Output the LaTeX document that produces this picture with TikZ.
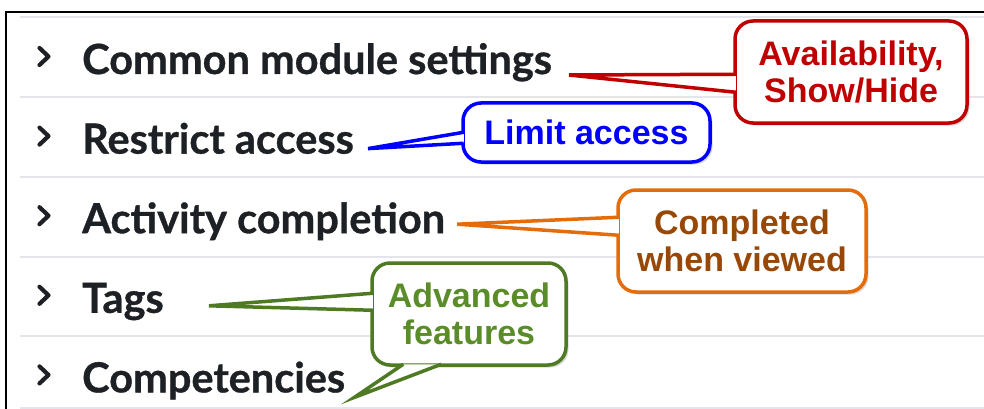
\documentclass[tikz,border=0pt]{standalone}
\usepackage{fontspec}
\setmainfont{Liberation Sans}
\newfontfamily\rowfont[BoldFeatures={FakeBold=0.8}]{Lato}
\usetikzlibrary{shadows,calc,backgrounds}

\definecolor{rowtext}{HTML}{1D2125}
\definecolor{rulegray}{HTML}{E3E5EA}
\definecolor{availred}{HTML}{C00000}
\definecolor{limitblue}{HTML}{0000FF}
\definecolor{complorange}{HTML}{E46C0A}
\definecolor{compltext}{HTML}{984806}
\definecolor{advgreen}{HTML}{4F7A24}
\definecolor{advtext}{HTML}{5A8C2A}

\tikzset{
  row/.style={anchor=base west, inner sep=0pt, text=rowtext,
    font=\rowfont\bfseries\fontsize{41.5}{44}\selectfont},
  chevron/.style={draw=rowtext, line width=4.2pt, line cap=round, line join=round},
  rule line/.style={draw=rulegray, line width=1.4pt},
  callout/.style={draw=#1, fill=white, line width=3.5pt, rounded corners=18pt,
    inner sep=0pt, align=center, font=\bfseries\fontsize{34}{37}\selectfont},
  tail/.style={draw=#1, fill=white, line width=3.5pt},
  shade/.style={drop shadow={shadow xshift=2.5pt, shadow yshift=-2.5pt, opacity=0.3}}
}

% tail of a callout: #1 colour, #2 and #4 on the box edge, #3 the tip
\newcommand\drawtail[4]{%
  \begin{pgfonlayer}{background}
    \fill[black, opacity=0.3, xshift=2.5pt, yshift=-2.5pt] #2 -- #3 -- #4 -- cycle;
  \end{pgfonlayer}
  \path[tail=#1] #2 -- #3 -- #4;}

\begin{document}
\begin{tikzpicture}[x=1pt, y=-1pt]
\useasboundingbox (0,0) rectangle (984,409);

% panel frame and row separators
\draw[line width=1.4pt] (6,409) -- (6,12) -- (984,12);
\foreach \y in {17,97,177,257,336,408}
  \draw[rule line] (20,\y) -- (984,\y);

% the collapsed sections
\foreach \name/\label [count=\i from 0] in {common/Common module settings,
    restrict/Restrict access, activity/Activity completion, tags/Tags,
    compet/Competencies} {
  \node[row] (\name) at (82,{74+79.6*\i}) {\label};
  \draw[chevron] ($(\name.base west)+(-42.5,-26)$) -- ++(9,8.5) -- ++(-9,8.5);
}

\coordinate (tipA) at ($(common.base east)+(17,1)$);
\coordinate (tipB) at ($(restrict.base east)+(14,-5)$);
\coordinate (tipC) at ($(activity.base east)+(12,-9)$);
\coordinate (tipD) at ($(tags.base east)+(45,-7)$);
\coordinate (tipE) at ($(compet.base east)+(9,5)$);

% red callout
\node[callout=availred, text=availred, minimum width=232pt, minimum height=102pt, shade]
  (avail) at (851,72) {Availability,\\Show/Hide};
\drawtail{availred}{($(avail.north west)+(2.5,55)$)}{(tipA)}{($(avail.north west)+(2.5,73)$)}

% blue callout
\node[callout=limitblue, text=limitblue, minimum width=247pt, minimum height=59pt, shade]
  (limit) at (586.5,132.5) {Limit access};
\drawtail{limitblue}{($(limit.north west)+(2.5,31)$)}{(tipB)}{($(limit.north west)+(2.5,42)$)}

% orange callout
\node[callout=complorange, text=compltext, minimum width=248pt, minimum height=102pt, shade]
  (viewed) at (742,241) {Completed\\when viewed};
\drawtail{complorange}{($(viewed.north west)+(2.5,29)$)}{(tipC)}{($(viewed.north west)+(2.5,47)$)}

% green callout with two tails
\node[callout=advgreen, text=advtext, minimum width=194pt, minimum height=102pt, shade]
  (advanced) at (469,314) {Advanced\\features};
\drawtail{advgreen}{($(advanced.north west)+(2.5,32)$)}{(tipD)}{($(advanced.north west)+(2.5,49)$)}
\drawtail{advgreen}{($(advanced.south west)+(33,-2.5)$)}{(tipE)}{($(advanced.south west)+(71,-2.5)$)}
\end{tikzpicture}
\end{document}
